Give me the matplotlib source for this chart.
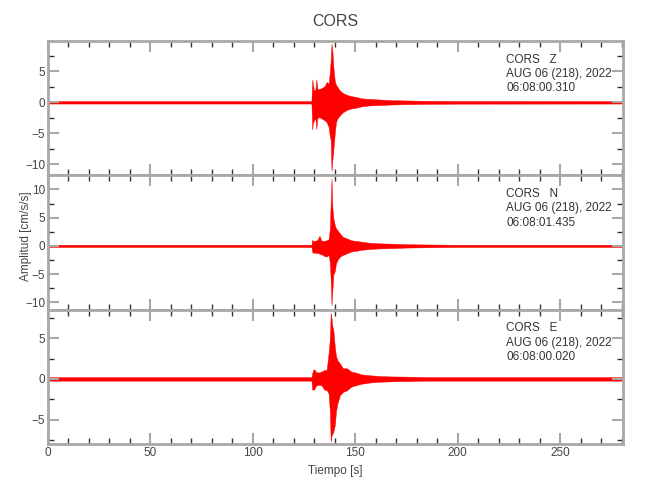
import numpy as np
import matplotlib
matplotlib.use('Agg')
import matplotlib.pyplot as plt
from matplotlib.ticker import MultipleLocator

plt.rcParams['font.family'] = ['Liberation Sans', 'DejaVu Sans']

# envelope of each trace (seconds, cm/s/s)
t_env = [0, 128.6, 129.0, 129.3, 129.8, 130.5, 131.0, 131.5, 132.5, 133.5, 135.0, 136.0,
         137.0, 137.6, 138.0, 138.4, 138.8, 139.3, 140.0, 140.6, 141.3, 142.5, 144.0, 146.0,
         148.0, 150.0, 153.0, 157.0, 162.0, 168.0, 175.0, 185.0, 200.0, 281.0]

z_up = [0.2, 0.2, 3.7, 3.0, 1.9, 2.0, 3.7, 2.2, 2.1, 2.3, 2.6, 3.3, 3.0, 5.0, 6.8, 9.5, 8.5,
        5.7, 3.5, 2.8, 2.5, 1.9, 1.5, 1.2, 1.0, 0.9, 0.65, 0.55, 0.45, 0.35, 0.3, 0.25, 0.22, 0.2]
z_lo = [-0.2, -0.2, -4.4, -3.5, -2.9, -2.6, -4.3, -2.5, -2.4, -2.6, -2.9, -3.2, -4.0, -5.5, -6.1,
        -11.1, -9.5, -7.7, -5.0, -3.2, -2.6, -2.1, -1.6, -1.2, -1.0, -0.9, -0.65, -0.5, -0.45,
        -0.35, -0.3, -0.25, -0.22, -0.2]

n_up = [0.2, 0.2, 1.1, 0.9, 0.9, 0.9, 1.0, 1.0, 1.8, 0.9, 0.9, 1.0, 1.2, 3.0, 7.8, 12.0, 7.0,
        4.9, 3.7, 3.1, 2.8, 2.2, 1.6, 1.3, 1.0, 0.9, 0.75, 0.55, 0.45, 0.4, 0.3, 0.25, 0.2, 0.2]
n_lo = [-0.2, -0.2, -1.1, -1.2, -1.2, -1.2, -1.3, -1.2, -1.4, -1.5, -1.8, -1.9, -1.6, -3.0, -6.0,
        -10.5, -8.0, -5.1, -4.5, -3.1, -2.5, -1.9, -1.6, -1.3, -1.0, -0.9, -0.7, -0.55, -0.45,
        -0.4, -0.3, -0.25, -0.2, -0.2]

e_up = [0.22, 0.22, 0.7, 1.0, 1.2, 1.0, 0.8, 0.8, 0.8, 0.9, 1.1, 1.1, 3.2, 5.0, 8.1, 7.5, 6.5,
        6.0, 4.0, 2.8, 2.3, 1.9, 1.3, 1.3, 0.9, 0.8, 0.55, 0.45, 0.35, 0.3, 0.28, 0.22, 0.22, 0.22]
e_lo = [-0.22, -0.22, -1.35, -1.3, -1.35, -1.0, -0.8, -0.75, -0.75, -0.8, -1.35, -1.35, -1.8,
        -4.0, -7.7, -7.0, -6.8, -6.5, -5.7, -4.0, -3.0, -2.0, -1.6, -1.4, -0.95, -0.8, -0.6,
        -0.45, -0.35, -0.3, -0.28, -0.22, -0.22, -0.22]

components = ['Z', 'N', 'E']
start_times = ['06:08:00.310', '06:08:01.435', '06:08:00.020']
ylims = [(-11.8, 9.9), (-11.3, 12.5), (-8.0, 8.5)]
uppers = [z_up, n_up, e_up]
lowers = [z_lo, n_lo, e_lo]

grey = '#a8a8a8'
txt = '#444444'

fig = plt.figure(figsize=(6.5, 5), dpi=100)
left, width, h = 48 / 650, 575 / 650, 134.3 / 500
bottoms = [0.6493, 0.3807, 0.112]

for i in range(3):
    ax = fig.add_axes([left, bottoms[i], width, h])
    ax.fill_between(t_env, lowers[i], uppers[i], color='red', linewidth=0.3, edgecolor='red')
    ax.set_xlim(0, 280.7)
    ax.set_ylim(*ylims[i])
    ax.xaxis.set_major_locator(MultipleLocator(50))
    ax.xaxis.set_minor_locator(MultipleLocator(10))
    ax.yaxis.set_major_locator(MultipleLocator(5))
    ax.yaxis.set_minor_locator(MultipleLocator(2.5))
    ax.tick_params(which='both', direction='in', top=True, right=True, labelsize=8.5,
                   labelcolor=txt, pad=2)
    ax.tick_params(which='major', length=8, width=1.5, color=grey)
    ax.tick_params(which='minor', length=4, width=1.0, color='#333333')
    for s in ax.spines.values():
        s.set_color(grey)
        s.set_linewidth(2)
    if i < 2:
        ax.set_xticklabels([])
    ax.text(0.797, 0.905, 'CORS   ' + components[i] + '\nAUG 06 (218), 2022\n' + start_times[i],
            transform=ax.transAxes, ha='left', va='top', fontsize=8.5, color='#333333',
            linespacing=1.25)

fig.text(335.5 / 650, 1 - 22 / 500, 'CORS', ha='center', va='center', fontsize=11.5, color=txt)
fig.text(335.5 / 650, 1 - 471 / 500, 'Tiempo [s]', ha='center', va='center', fontsize=8.5, color=txt)
fig.text(26 / 650, 1 - 236 / 500, 'Amplitud [cm/s/s]', ha='center', va='center', rotation=90,
         fontsize=8.5, color=txt)

plt.savefig('out.png', dpi=100)
